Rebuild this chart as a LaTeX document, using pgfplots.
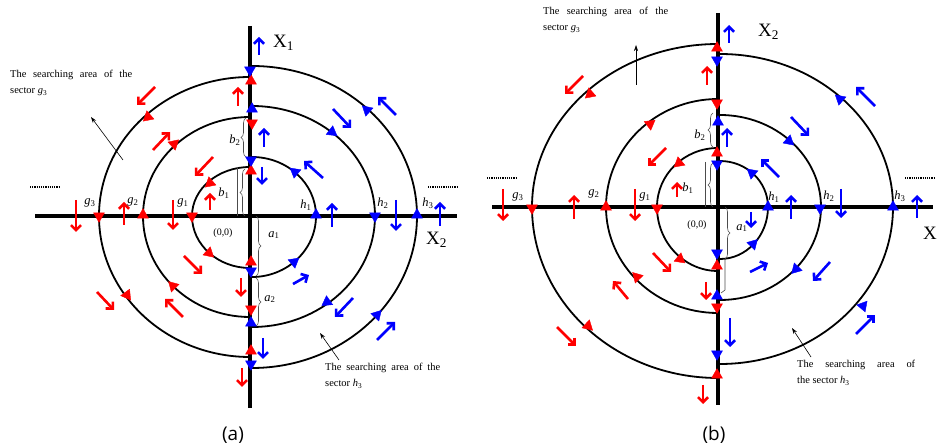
\documentclass[border=0pt]{standalone}
\usepackage{pgfplots}
\pgfplotsset{compat=1.18}
\usepackage{fontspec}
\setmainfont{Liberation Serif}
\newfontfamily\capfont{Open Sans}
\usetikzlibrary{arrows.meta,decorations.pathreplacing}
\definecolor{myred}{RGB}{255,0,0}
\definecolor{myblue}{RGB}{0,0,255}
\newcommand{\lab}[2]{\textit{#1}\textsubscript{#2}}
\pgfplotsset{
  panel/.style={hide axis, scale only axis, clip=false, height=446bp, anchor=south west},
  tri/.style={scatter, only marks, mark=triangle*, mark size=6.3bp,
    visualization depends on={\thisrow{a} \as \ang},
    scatter/use mapped color={draw=#1, fill=#1},
    scatter/@pre marker code/.append style={/tikz/rotate=\ang}},
  qv/.style={#1, line width=2.6bp, -{Straight Barb[length=5bp,width=10bp]}, quiver={u=\thisrow{u}, v=\thisrow{v}}},
  ax/.style={black, line width=3.8bp},
}
\tikzset{
  curve/.style={black, line width=1.8bp},
  brc/.style={decorate, decoration={brace, amplitude=5bp}, gray!60!black, line width=0.6bp},
  small/.style={font=\fontsize{10.5}{16}\selectfont, inner sep=0pt, align=left},
  glab/.style={font=\fontsize{12.5}{12.5}\selectfont, inner sep=0pt},
  big/.style={font=\fontsize{19}{19}\selectfont, inner sep=0pt},
}
\begin{document}
\begin{tikzpicture}
\path[use as bounding box] (0,0) rectangle (937bp,446bp);
% ---------------- panel (a)
\begin{axis}[panel, at={(0,0)}, width=470bp, xmin=-250, xmax=220, ymin=-230, ymax=216]
\draw[curve] (axis cs:0,49) arc[start angle=90,end angle=180,x radius=58bp,y radius=49bp] arc[start angle=180,end angle=270,x radius=58bp,y radius=52bp];
\draw[curve] (axis cs:0,99) arc[start angle=90,end angle=180,x radius=107bp,y radius=99bp] arc[start angle=180,end angle=270,x radius=107bp,y radius=101bp];
\draw[curve] (axis cs:0,139) arc[start angle=90,end angle=180,x radius=151bp,y radius=139bp] arc[start angle=180,end angle=270,x radius=151bp,y radius=141bp];
\draw[curve] (axis cs:2,59) arc[start angle=90,end angle=0,x radius=64bp,y radius=59bp] arc[start angle=0,end angle=-90,x radius=64bp,y radius=61bp];
\draw[curve] (axis cs:2,110) arc[start angle=90,end angle=0,x radius=123bp,y radius=110bp] arc[start angle=0,end angle=-90,x radius=123bp,y radius=111bp];
\draw[curve] (axis cs:2,150) arc[start angle=90,end angle=0,x radius=165bp,y radius=150bp] arc[start angle=0,end angle=-90,x radius=165bp,y radius=152bp];
\addplot[ax] coordinates {(-215,0) (207,0)};
\addplot[ax] coordinates {(0,190) (0,-192)};
\draw[gray!60!black, line width=0.6bp] (axis cs:-13,49) -- (axis cs:-13,0);
\draw[brc] (axis cs:-5,0) -- (axis cs:-5,47);
\draw[brc] (axis cs:-4,59) -- (axis cs:-4,98);
\draw[brc] (axis cs:6,0) -- (axis cs:6,-60);
\draw[brc] (axis cs:6,-62) -- (axis cs:6,-110);
\addplot[tri=myred] table {
x y a
1 135 0
2 93 180
1 45 0
-102 99 131
-76 72 -48
-40 33 131
-151 0 180
-107 1 0
-58 0 180
-41 -37 228
1 -46 0
-77 -70 45
1 -93 180
-123 -79 216
1 -135 0
};
\addplot[tri=myblue] table {
x y a
0 146 180
2 107 0
1 56 180
117 106 48
82 84 233
45 44 51
66 1 0
125 0 180
167 1 0
44 -46 -51
1 -55 180
1 -107 0
77 -86 125
127 -99 -43
1 -148 180
};
\addplot[qv=myblue] table {
x y u v
9 161 0 18
14 69 0 19
83 107 18 -19
146 101 -18 18
12 49 0 -18
73 38 -19 17
82 -11 0 24
146 16 0 -31
190 -10 0 24
43 -68 16 9
103 -82 -18 -19
127 -124 18 18
13 -122 0 -21
};
\addplot[qv=myred] table {
x y u v
-95 129 -18 -18
-12 110 0 19
-97 66 17 18
-37 59 -18 -19
-40 6 0 17
-174 16 0 -32
-126 -9 0 23
-77 16 0 -30
-66 -40 18 -18
-9 -62 0 -19
-153 -76 17 -18
-67 -101 -18 18
-8 -152 0 -19
};
\node[big, anchor=west] at (axis cs:23,173) {X\textsubscript{1}};
\node[big, anchor=west] at (axis cs:176,-24) {X\textsubscript{2}};
\node[small, anchor=north west] at (axis cs:-240,146) {\makebox[122bp][s]{The searching area of the}\\sector \lab{g}{3}};
\node[small, anchor=north west] at (axis cs:75,-147) {\makebox[115bp][s]{The searching area of the}\\sector \lab{h}{3}};
\draw[-{Stealth[length=6bp,width=4bp]}, line width=0.6bp] (axis cs:-127,56) -- (axis cs:-159,99);
\draw[-{Stealth[length=6bp,width=4bp]}, line width=0.6bp] (axis cs:89,-144) -- (axis cs:70,-117);
\draw[densely dotted, line width=1.2bp] (axis cs:-220,29) -- (axis cs:-190,29);
\draw[densely dotted, line width=1.2bp] (axis cs:178,29) -- (axis cs:207,29);
\node[glab] at (axis cs:-160,13) {\lab{g}{3}};
\node[glab] at (axis cs:-117,14) {\lab{g}{2}};
\node[glab] at (axis cs:-67,13) {\lab{g}{1}};
\node[glab] at (axis cs:56,11) {\lab{h}{1}};
\node[glab] at (axis cs:133,13) {\lab{h}{2}};
\node[glab] at (axis cs:178,13) {\lab{h}{3}};
\node[glab] at (axis cs:-15,76) {\lab{b}{2}};
\node[glab] at (axis cs:-26,23) {\lab{b}{1}};
\node[glab] at (axis cs:24,-19) {\lab{a}{1}};
\node[glab] at (axis cs:20,-83) {\lab{a}{2}};
\node[font=\fontsize{10}{10}\selectfont, inner sep=0pt] at (axis cs:-27,-17) {(0,0)};
\node[font=\capfont\fontsize{19}{19}\selectfont, inner sep=0pt] at (axis cs:-17,-219) {(a)};
\end{axis}
% ---------------- panel (b)
\begin{axis}[panel, at={(470bp,0)}, width=467bp, xmin=-248, xmax=219, ymin=-239, ymax=207]
\draw[curve] (axis cs:0,59) arc[start angle=90,end angle=180,x radius=61bp,y radius=59bp] arc[start angle=180,end angle=270,x radius=61bp,y radius=64bp];
\draw[curve] (axis cs:0,108) arc[start angle=90,end angle=180,x radius=112bp,y radius=108bp] arc[start angle=180,end angle=270,x radius=112bp,y radius=106bp];
\draw[curve] (axis cs:0,163) arc[start angle=90,end angle=180,x radius=186bp,y radius=163bp] arc[start angle=180,end angle=270,x radius=186bp,y radius=171bp];
\draw[curve] (axis cs:2,46) arc[start angle=90,end angle=0,x radius=48bp,y radius=46bp] arc[start angle=0,end angle=-90,x radius=48bp,y radius=52bp];
\draw[curve] (axis cs:2,92) arc[start angle=90,end angle=0,x radius=101bp,y radius=92bp] arc[start angle=0,end angle=-90,x radius=101bp,y radius=93bp];
\draw[curve] (axis cs:2,153) arc[start angle=90,end angle=0,x radius=173bp,y radius=153bp] arc[start angle=0,end angle=-90,x radius=173bp,y radius=157bp];
\addplot[ax] coordinates {(-226,0) (215,0)};
\addplot[ax] coordinates {(0,194) (0,-198)};
\draw[gray!60!black, line width=0.6bp] (axis cs:-13,45) -- (axis cs:-13,0);
\draw[brc] (axis cs:-5,0) -- (axis cs:-5,44);
\draw[brc] (axis cs:-5,60) -- (axis cs:-5,94);
\draw[brc] (axis cs:7,0) -- (axis cs:7,-52);
\draw[gray!60!black, line width=0.6bp] (axis cs:7,-52) -- (axis cs:7,-83) -- (axis cs:3,-86);
\addplot[tri=myred] table {
x y a
-1 159 0
-1 104 180
-1 54 0
-128 113 131
-68 83 -53
-39 44 130
-186 -1 180
-112 0 0
-61 -1 180
-38 -52 231
-1 -59 0
-81 -70 44
-1 -100 180
-130 -119 227
-1 -168 0
};
\addplot[tri=myblue] table {
x y a
-1 147 180
0 85 0
-1 43 180
122 108 49
71 66 229
34 34 50
50 0 0
102 -1 180
175 0 0
35 -37 -44
-1 -46 180
-1 -89 0
78 -62 136
145 -99 -40
-1 -147 180
};
\addplot[qv=myblue] table {
x y u v
11 164 0 18
157 101 -19 19
73 90 18 -19
9 60 0 19
61 30 -18 18
73 -12 0 24
123 18 0 -29
199 -11 0 23
33 -5 0 -16
32 -65 18 9
112 -55 -17 -19
12 -111 0 -29
138 -127 19 19
};
\addplot[qv=myred] table {
x y u v
-11 122 0 19
-135 131 -18 -18
-52 59 -18 -18
-41 10 0 15
-215 18 0 -32
-144 -12 0 24
-83 18 0 -32
-65 -46 18 -19
-90 -92 -15 18
-12 -75 0 -18
-161 -120 19 -19
-15 -178 0 -19
};
\node[big, anchor=west] at (axis cs:40,175) {X\textsubscript{2}};
\node[big, anchor=east] at (axis cs:219,-26) {X};
\node[small, anchor=north west] at (axis cs:-175,200) {\makebox[125bp][s]{The searching area of the}\\sector \lab{g}{3}};
\node[small, anchor=north west] at (axis cs:79,-153) {\makebox[118bp][s]{The searching area of}\\the sector \lab{h}{3}};
\draw[-{Stealth[length=6bp,width=4bp]}, line width=0.6bp] (axis cs:-82,122) -- (axis cs:-82,162);
\draw[-{Stealth[length=6bp,width=4bp]}, line width=0.6bp] (axis cs:93,-150) -- (axis cs:74,-121);
\draw[densely dotted, line width=1.2bp] (axis cs:-231,29) -- (axis cs:-201,29);
\draw[densely dotted, line width=1.2bp] (axis cs:187,29) -- (axis cs:217,29);
\node[glab] at (axis cs:-200,10) {\lab{g}{3}};
\node[glab] at (axis cs:-124,13) {\lab{g}{2}};
\node[glab] at (axis cs:-73,10) {\lab{g}{1}};
\node[glab] at (axis cs:56,10) {\lab{h}{1}};
\node[glab] at (axis cs:111,11) {\lab{h}{2}};
\node[glab] at (axis cs:182,11) {\lab{h}{3}};
\node[glab] at (axis cs:-18,72) {\lab{b}{2}};
\node[glab] at (axis cs:-30,19) {\lab{b}{1}};
\node[glab] at (axis cs:24,-21) {\lab{a}{1}};
\node[font=\fontsize{10}{10}\selectfont, inner sep=0pt] at (axis cs:-21,-18) {(0,0)};
\node[font=\capfont\fontsize{19}{19}\selectfont, inner sep=0pt] at (axis cs:-4,-228) {(b)};
\end{axis}
\end{tikzpicture}
\end{document}
